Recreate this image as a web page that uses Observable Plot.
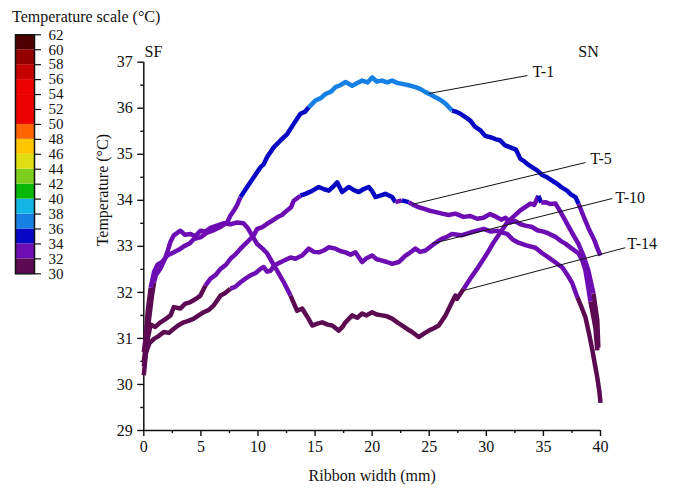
<!DOCTYPE html>
<html>
<head>
<meta charset="utf-8">
<script src="https://cdn.jsdelivr.net/npm/d3@7"></script>
<script src="https://cdn.jsdelivr.net/npm/@observablehq/plot@0.6"></script>
<style>
  body { margin: 0; background: white; }
  #wrap { position: relative; width: 675px; height: 490px; font-family: "Liberation Serif", "Times New Roman", serif; }
  #legend { position: absolute; left: 0; top: 0; }
  #ltitle { position: absolute; left: 12px; top: 8px; font-size: 16px; line-height: 18px; color: #111; white-space: nowrap; }
</style>
</head>
<body>
<div id="wrap">
  <div id="main"></div>
  <div id="legend"></div>
  <div id="ltitle">Temperature scale (°C)</div>
</div>
<script>
// ---- Data (Ribbon width in mm, temperature in °C) ----
const seriesNames = ["T-14", "T-10", "T-5", "T-1"];

const t1 = [[0,30.7],[0.15,31.0],[0.35,31.6],[0.6,32.1],[0.9,32.45],[1.2,32.6],[1.6,32.66],[2.05,32.8],[2.63,32.87],[3.1,32.93],[3.5,33.0],[4.0,33.06],[4.38,33.16],[5.0,33.2],[5.55,33.3],[6.2,33.36],[6.72,33.42],[7.3,33.52],[7.59,33.67],[7.9,33.78],[8.18,33.9],[8.47,34.07],[9.05,34.29],[9.63,34.5],[10.22,34.72],[10.5,34.78],[10.8,34.94],[11.38,35.15],[11.97,35.3],[12.56,35.44],[13.13,35.66],[13.72,35.88],[14.1,35.92],[14.45,36.02],[15.04,36.17],[15.5,36.22],[15.91,36.31],[16.4,36.36],[16.79,36.46],[17.2,36.5],[17.67,36.57],[18.25,36.49],[18.7,36.55],[19.12,36.6],[19.6,36.56],[20.0,36.67],[20.4,36.58],[20.88,36.6],[21.3,36.56],[21.75,36.6],[22.2,36.55],[22.63,36.53],[23.2,36.5],[23.79,36.46],[24.2,36.42],[24.67,36.35],[25.1,36.3],[25.54,36.24],[26.0,36.18],[26.42,36.1],[27.0,35.95],[27.4,35.92],[27.73,35.88],[28.2,35.8],[28.6,35.73],[29.0,35.6],[29.48,35.52],[29.9,35.4],[30.35,35.37],[30.8,35.33],[31.23,35.3],[31.6,35.2],[32.1,35.15],[32.6,35.1],[32.98,34.9],[33.3,34.85],[33.57,34.79],[34.0,34.72],[34.45,34.65],[34.9,34.55],[35.32,34.5],[35.8,34.42],[36.2,34.36],[36.6,34.28],[37.07,34.21],[37.45,34.12],[37.8,34.07],[38.09,33.92],[38.6,33.6],[38.94,33.4],[39.47,33.13],[39.82,32.9],[40,32.8]];

const t5 = [[0,30.2],[0.15,30.6],[0.35,31.0],[0.6,31.3],[1.0,31.25],[1.46,31.35],[1.9,31.42],[2.34,31.5],[2.63,31.68],[3.21,31.65],[3.6,31.75],[4.09,31.79],[4.5,31.85],[4.96,31.93],[5.4,32.15],[5.84,32.3],[6.3,32.38],[6.72,32.51],[7.2,32.6],[7.59,32.73],[8.0,32.82],[8.47,32.95],[9.05,33.09],[9.63,33.24],[9.93,33.38],[10.4,33.42],[10.8,33.49],[11.2,33.55],[11.68,33.63],[12.1,33.68],[12.55,33.78],[12.9,33.85],[13.13,33.99],[13.72,34.1],[14.16,34.14],[14.7,34.2],[15.32,34.29],[15.8,34.24],[16.2,34.21],[16.6,34.3],[16.94,34.39],[17.37,34.18],[17.95,34.29],[18.4,34.22],[18.83,34.18],[19.3,34.25],[19.7,34.29],[20.0,34.2],[20.29,34.07],[20.7,34.1],[21.16,34.14],[21.75,34.07],[22.04,33.96],[22.6,34.0],[23.2,33.96],[23.6,33.9],[24.08,33.85],[24.5,33.82],[24.96,33.78],[25.5,33.75],[26.13,33.71],[26.7,33.68],[27.29,33.71],[28.0,33.64],[28.6,33.66],[29.2,33.6],[29.75,33.62],[30.3,33.7],[30.8,33.65],[31.3,33.58],[31.7,33.62],[32.1,33.52],[32.5,33.55],[33.0,33.48],[33.42,33.45],[34.0,33.42],[34.47,33.35],[35.0,33.32],[35.44,33.28],[36.1,33.2],[36.5,33.12],[36.92,33.06],[37.5,32.95],[38.06,32.85],[38.4,32.7],[38.68,32.48],[38.9,32.15],[39.12,31.8],[39.35,31.5],[39.55,31.24],[39.72,30.74]];

const t10 = [[0,30.4],[0.2,30.7],[0.5,30.9],[0.88,30.99],[1.3,31.05],[1.75,31.14],[2.2,31.12],[2.63,31.21],[3.0,31.28],[3.5,31.35],[3.9,31.38],[4.38,31.43],[4.8,31.5],[5.25,31.57],[5.7,31.62],[6.13,31.72],[6.72,31.93],[7.1,31.98],[7.59,32.08],[8.0,32.12],[8.47,32.22],[8.9,32.3],[9.34,32.37],[9.8,32.42],[10.22,32.51],[10.5,32.55],[10.8,32.45],[11.1,32.47],[11.4,32.58],[11.68,32.62],[12.2,32.68],[12.85,32.76],[13.28,32.73],[13.87,32.8],[14.45,32.95],[14.9,32.88],[15.32,32.87],[15.76,32.91],[16.2,32.98],[16.79,32.95],[17.2,32.9],[17.66,32.87],[18.1,32.82],[18.54,32.87],[19.12,32.66],[19.5,32.74],[20.0,32.8],[20.4,32.72],[20.88,32.69],[21.3,32.66],[21.75,32.62],[22.33,32.66],[22.92,32.8],[23.3,32.86],[23.79,32.95],[24.2,32.88],[24.67,32.91],[25.25,33.02],[25.7,33.1],[26.13,33.17],[26.5,33.2],[27.0,33.27],[27.8,33.24],[28.6,33.3],[29.2,33.34],[29.77,33.38],[30.4,33.32],[30.95,33.34],[31.4,33.3],[31.82,33.27],[32.3,33.15],[32.81,33.08],[33.5,33.02],[34.3,32.97],[34.9,32.85],[35.44,32.76],[36.0,32.66],[36.66,32.54],[37.1,32.38],[37.53,32.2],[37.98,31.89],[38.3,31.7],[38.68,31.46],[39.0,31.1],[39.29,30.74],[39.5,30.45],[39.72,30.15],[39.9,29.85],[40,29.6]];

const t14 = [[0,30.5],[0.2,30.9],[0.45,31.4],[0.7,31.9],[0.9,32.22],[1.05,32.37],[1.46,32.52],[1.8,32.7],[2.05,32.87],[2.34,33.1],[2.63,33.24],[3.21,33.34],[3.6,33.25],[4.09,33.27],[4.5,33.22],[4.96,33.34],[5.4,33.32],[5.84,33.4],[6.4,33.45],[6.98,33.5],[7.6,33.48],[8.18,33.52],[8.73,33.5],[9.1,33.4],[9.34,33.3],[9.93,33.05],[10.4,32.95],[10.8,32.85],[11.38,32.6],[11.8,32.42],[12.26,32.22],[12.85,31.93],[13.43,31.6],[13.87,31.65],[14.42,31.43],[14.75,31.28],[15.2,31.32],[15.62,31.35],[16.1,31.3],[16.5,31.28],[17.08,31.17],[17.4,31.25],[17.66,31.35],[18.25,31.5],[18.7,31.45],[19.12,31.54],[19.5,31.5],[20.0,31.57],[20.4,31.52],[20.88,31.5],[21.3,31.48],[21.75,31.43],[22.2,31.35],[22.63,31.28],[23.1,31.2],[23.5,31.14],[24.08,31.03],[24.5,31.1],[24.96,31.17],[25.4,31.22],[25.83,31.28],[26.1,31.38],[26.42,31.5],[27.0,31.79],[27.29,31.93],[27.44,31.86],[28.02,32.08],[28.6,32.3],[29.19,32.51],[29.77,32.73],[30.2,32.9],[30.65,33.09],[31.23,33.3],[31.82,33.52],[32.4,33.65],[32.98,33.78],[33.4,33.85],[33.86,33.93],[34.2,33.9],[34.56,34.1],[34.8,33.95],[35.18,33.96],[35.6,33.92],[36.05,33.93],[36.5,33.75],[36.92,33.56],[37.5,33.3],[38.06,33.06],[38.5,32.8],[38.93,32.48],[39.38,31.98],[39.72,31.4],[39.81,30.8]];

// colour scale bands (lower bound of each 2 °C band) and their colours
const bandLows = [30,32,34,36,38,40,42,44,46,48,50,52,54,56,58,60];
const bandColors = ["#5c0a52","#6c0cb2","#0808c4","#1680e4","#12b6e4","#08b808","#7ccf1c","#dede12","#ffc600","#ff6400","#ee0000","#ee0000","#ee0000","#c40000","#940000","#4e0000"];
const legendTicks = [30,32,34,36,38,40,42,44,46,48,50,52,54,56,58,60,62];

const xMajor = [0,5,10,15,20,25,30,35,40];
const xMinor = [2.5,7.5,12.5,17.5,22.5,27.5,32.5,37.5];
const yMajor = [29,30,31,32,33,34,35,36,37];
const yMinor = [29.5,30.5,31.5,32.5,33.5,34.5,35.5,36.5];

// annotation labels and their leader lines (data coordinates)
const annLabels = ["T-1","T-5","T-10","T-14"];
const annTextX = [34.05,39.1,41.3,42.35];
const annTextY = [36.78,34.91,34.06,33.06];
const annFromX = [24.96,23.5,25.28,28.0];
const annFromY = [36.32,33.91,33.06,32.04];
const annToX = [33.6,38.67,41.04,42.17];
const annToY = [36.71,34.82,34.04,32.97];
const sideLabels = ["SF","SN"];
const sideX = [0.06,38.06];
const sideY = [37.23,37.23];

// ---- Build tables ----
const byName = {"T-1": t1, "T-5": t5, "T-10": t10, "T-14": t14};
const rows = [];
for (const name of seriesNames) for (const [x, y] of byName[name]) rows.push({series: name, x, y});
const thresholds = bandLows.slice(1);
const colorScale = {type: "threshold", domain: thresholds, range: bandColors};

const ann = annLabels.map((t, i) => ({t, x: annTextX[i], y: annTextY[i], x1: annFromX[i], y1: annFromY[i], x2: annToX[i], y2: annToY[i]}));
const sides = sideLabels.map((t, i) => ({t, x: sideX[i], y: sideY[i]}));
const bands = bandLows.map((lo, i) => ({lo, hi: lo + 2, mid: lo + 1}));

const font = "Liberation Serif, Times New Roman, serif";

const main = Plot.plot({
  width: 675,
  height: 490,
  marginLeft: 143.3,
  marginRight: 75,
  marginTop: 61.7,
  marginBottom: 60,
  style: {fontFamily: font, fontSize: "16px", color: "#111", background: "white", overflow: "visible"},
  x: {domain: [0, 40], label: null},
  y: {domain: [29, 37], label: null},
  color: colorScale,
  marks: [
    Plot.axisX({ticks: xMinor, tickSize: 3, tickFormat: () => "", label: null, strokeWidth: 1.4}),
    Plot.axisX({ticks: xMajor, tickSize: 6, tickPadding: 4, label: null, strokeWidth: 1.4}),
    Plot.axisY({ticks: yMinor, tickSize: 3, tickFormat: () => "", label: null, strokeWidth: 1.4}),
    Plot.axisY({ticks: yMajor, tickSize: 6, tickPadding: 5, label: null, strokeWidth: 1.4}),
    Plot.ruleY([29], {x1: 0, x2: 40, stroke: "#111", strokeWidth: 1.5}),
    Plot.ruleX([0], {y1: 29, y2: 37, stroke: "#111", strokeWidth: 1.5}),
    Plot.line(rows, {x: "x", y: "y", z: "series", stroke: "y", strokeWidth: 4.5, strokeLinejoin: "round", strokeLinecap: "butt"}),
    Plot.link(ann, {x1: "x1", y1: "y1", x2: "x2", y2: "y2", stroke: "#111", strokeWidth: 1, clip: false}),
    Plot.text(ann, {x: "x", y: "y", text: "t", textAnchor: "start", fill: "#111", fontSize: 16, clip: false}),
    Plot.text(sides, {x: "x", y: "y", text: "t", textAnchor: "start", fill: "#111", fontSize: 16, clip: false}),
    Plot.text(["Temperature (°C)"], {frameAnchor: "left", dx: -41, rotate: -90, fill: "#111", fontSize: 16}),
    Plot.text(["Ribbon width (mm)"], {frameAnchor: "bottom", dy: 50, fill: "#111", fontSize: 16})
  ]
});
document.getElementById("main").appendChild(main);

const legend = Plot.plot({
  width: 120,
  height: 290,
  marginLeft: 15,
  marginRight: 86,
  marginTop: 34.3,
  marginBottom: 16.7,
  style: {fontFamily: font, fontSize: "15px", color: "#111", background: "transparent", overflow: "visible"},
  y: {domain: [30, 62], label: null},
  color: colorScale,
  marks: [
    Plot.rect(bands, {y1: "lo", y2: "hi", fill: "mid"}),
    Plot.frame({stroke: "#111", strokeWidth: 1.5}),
    Plot.axisY({anchor: "right", ticks: legendTicks, tickSize: 6, tickPadding: 8, label: null, strokeWidth: 1.2, fontSize: 15})
  ]
});
document.getElementById("legend").appendChild(legend);
</script>
</body>
</html>
